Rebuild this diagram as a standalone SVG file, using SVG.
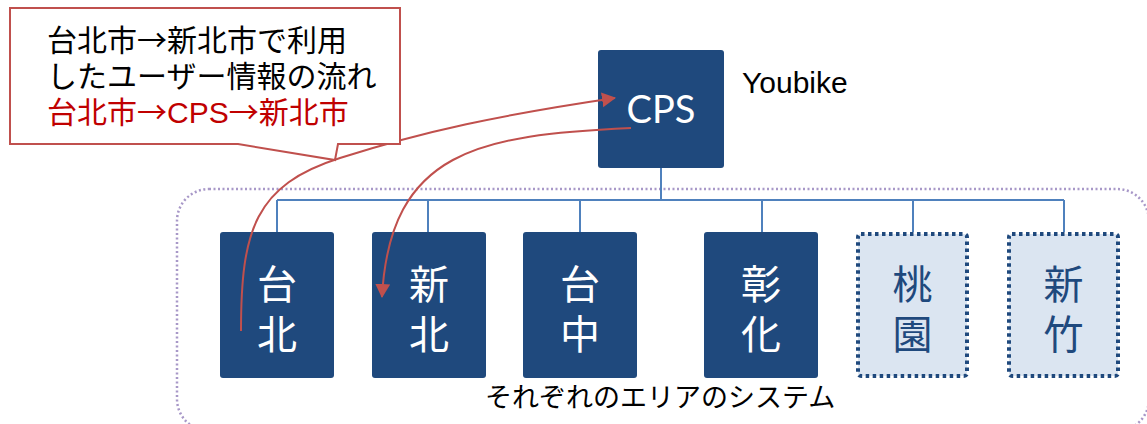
<svg xmlns="http://www.w3.org/2000/svg" width="1147" height="424" viewBox="0 0 1147 424">
<style>
.box{fill:#1f497d;}
.dbox{fill:#dbe5f1;stroke:#1f497d;stroke-width:4;stroke-dasharray:3.5 3.5;}
.bt{font-family:"Noto Sans CJK JP","Noto Sans CJK SC",sans-serif;font-size:40px;fill:#fff;text-anchor:middle;}
.dt{font-family:"Noto Sans CJK JP","Noto Sans CJK SC",sans-serif;font-size:40px;fill:#1f497d;text-anchor:middle;}
.conn{stroke:#4f81bd;stroke-width:2;fill:none;}
.red{stroke:#c0504d;stroke-width:2;fill:none;}
.ct{font-family:"Liberation Sans","Noto Sans CJK JP",sans-serif;font-size:30px;}
.ar{font-family:"Noto Sans CJK JP",sans-serif;}
</style>
<defs>
<marker id="ah" markerUnits="userSpaceOnUse" markerWidth="16" markerHeight="16" refX="13" refY="7.5" orient="auto">
<path d="M0,0 L14,7.5 L0,15 Z" fill="#c0504d"/>
</marker>
</defs>
<g id="container">
<rect x="177" y="189" width="972" height="242" rx="32" fill="none" stroke="#a898c8" stroke-width="2.5" stroke-dasharray="2 2.5"/>
<text x="485" y="407" font-family="'Noto Sans CJK JP',sans-serif" font-size="27" fill="#000">それぞれのエリアのシステム</text>
</g>
<g id="connectors">
<path class="conn" d="M661,168 V200 M277,200 H1064 M277,200 V232 M428,200 V232 M580,200 V232 M762,200 V232 M913,200 V232 M1064,200 V232"/>
</g>
<g id="cps">
<rect class="box" x="598" y="50" width="126" height="118" rx="3"/>
<text x="661" y="123" font-family="Lato,'Open Sans',sans-serif" font-size="38" fill="#fff" text-anchor="middle">CPS</text>
</g>
<g id="youbike">
<text x="742" y="93" font-family="'Liberation Sans',Arial,sans-serif" font-size="30" fill="#000">Youbike</text>
</g>
<g id="taipei">
<rect class="box" x="220" y="232" width="114" height="146" rx="3"/>
<text class="bt" x="277" y="299">台<tspan x="277" dy="50">北</tspan></text>
</g>
<g id="xinbei">
<rect class="box" x="372" y="232" width="114" height="146" rx="3"/>
<text class="bt" x="429" y="299">新<tspan x="429" dy="50">北</tspan></text>
</g>
<g id="taichung">
<rect class="box" x="523" y="232" width="114" height="146" rx="3"/>
<text class="bt" x="580" y="299">台<tspan x="580" dy="50">中</tspan></text>
</g>
<g id="changhua">
<rect class="box" x="704" y="232" width="114" height="146" rx="3"/>
<text class="bt" x="761" y="299">彰<tspan x="761" dy="50">化</tspan></text>
</g>
<g id="taoyuan">
<rect class="dbox" x="858" y="234" width="109" height="142" rx="3"/>
<text class="dt" x="912.5" y="299">桃<tspan x="912.5" dy="50">園</tspan></text>
</g>
<g id="hsinchu">
<rect class="dbox" x="1009" y="234" width="109" height="142" rx="3"/>
<text class="dt" x="1063.5" y="299">新<tspan x="1063.5" dy="50">竹</tspan></text>
</g>
<g id="flows">
<path class="red" d="M241,331 C241,230 255,185 340,158 S500,115 615,98" marker-end="url(#ah)"/>
<path class="red" d="M631,128 C480,135 390,150 382,297" marker-end="url(#ah)"/>
</g>
<g id="callout">
<path d="M10,8 H400 V144 H338 L335,160 L238,144 H10 Z" fill="#fff" stroke="#c0504d" stroke-width="2"/>
<text class="ct" x="47" y="51" fill="#000">台北市<tspan class="ar">→</tspan>新北市で利用</text>
<text class="ct" x="47" y="87" fill="#000">したユーザー情報の流れ</text>
<text class="ct" x="47" y="123" fill="#c00000">台北市<tspan class="ar">→</tspan>CPS<tspan class="ar">→</tspan>新北市</text>
</g>
</svg>
